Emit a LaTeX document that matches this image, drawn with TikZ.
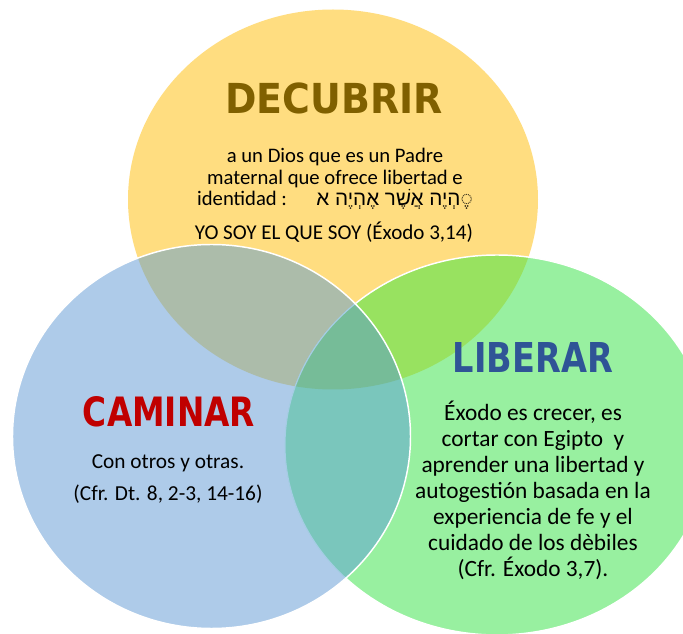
\documentclass[tikz,border=0pt]{standalone}
\usepackage{fontspec}
\usepackage{graphicx}
\setmainfont{Carlito}
\newfontfamily\hebfont[Script=Hebrew]{Liberation Sans}
\newfontfamily\titlefont{DejaVu Sans}
\TeXXeTstate=1

\definecolor{amarillo}{RGB}{255,221,128}
\definecolor{azul}{RGB}{174,203,233}
\definecolor{verde}{RGB}{152,240,160}
\definecolor{verdeclaro}{RGB}{152,226,96}
\definecolor{gris}{RGB}{172,188,170}
\definecolor{turquesa}{RGB}{122,198,188}
\definecolor{triple}{RGB}{118,188,152}
\definecolor{orilla}{RGB}{165,205,228}
\definecolor{oro}{RGB}{128,96,0}
\definecolor{rojo}{RGB}{192,0,0}
\definecolor{azulosc}{RGB}{47,84,150}

\tikzset{
  borde/.style={draw=white, line width=1.1pt},
  titulo/.style={inner sep=0pt, font=\titlefont\bfseries},
  texto/.style={align=center, inner sep=0pt},
}

\begin{document}
\begin{tikzpicture}[x=0.75pt, y=-0.75pt]
  \clip (0,0) rectangle (683,634);
  \fill[white] (0,0) rectangle (683,634);

  \coordinate (cT) at (333,199.5);
  \coordinate (cL) at (211.5,436.5);
  \coordinate (cR) at (497,445);
  \def\elTop{(cT) ellipse [x radius=205, y radius=190]}
  \def\elIzq{(cL) ellipse [x radius=199, y radius=192]}
  \def\elDer{(cR) ellipse [x radius=212, y radius=190]}

  \fill[amarillo] \elTop;
  \fill[verde] \elDer;
  \begin{scope}
    \clip \elTop;
    \fill[verdeclaro] \elDer;
  \end{scope}
  \draw[borde] \elDer;
  \fill[azul] \elIzq;
  \begin{scope}
    \clip \elIzq;
    \fill[gris] \elTop;
    \fill[turquesa] \elDer;
    \draw[orilla, line width=0.8pt] \elDer;
    \clip \elTop;
    \fill[triple] \elDer;
  \end{scope}
  \begin{scope}
    \clip \elIzq;
    \clip \elTop;
    \draw[orilla, line width=0.8pt] \elDer;
  \end{scope}
  \draw[borde] \elIzq;

  \node[titulo, text=oro] (decubrir) at (334,98) {\resizebox{163pt}{23pt}{DECUBRIR}};
  \node[texto, font=\fontsize{15.5}{16.2}\selectfont] (dios) at (335,179)
    {a un Dios que es un Padre\\ maternal que ofrece libertad e\\
     identidad :\hspace{22pt}{\hebfont\beginR ◌ֶהְיֶה אֲשֶׁר אֶהְיֶה א\endR}};
  \node[texto, font=\fontsize{15.8}{17}\selectfont] (yosoy) at (334,232) {YO SOY EL QUE SOY (Éxodo 3,14)};

  \node[titulo, text=rojo] (caminar) at (169,412) {\resizebox{129pt}{22.5pt}{CAMINAR}};
  \node[texto, font=\fontsize{16}{19}\selectfont] (otros) at (168,463) {Con otros y otras.};
  \node[texto, font=\fontsize{16}{19}\selectfont] (cfrdt) at (168,494) {(Cfr. Dt. 8, 2-3, 14-16)};

  \node[titulo, text=azulosc] (liberar) at (533,358) {\resizebox{120pt}{22.5pt}{LIBERAR}};
  \node[texto, font=\fontsize{17.5}{19.5}\selectfont] (exodo) at (533,490)
    {Éxodo es crecer, es\\ cortar con Egipto\ \ y\\ aprender una libertad y\\
     autogestión basada en la\\ experiencia de fe y el\\ cuidado de los dèbiles\\
     (Cfr. Éxodo 3,7).};
\end{tikzpicture}
\end{document}
